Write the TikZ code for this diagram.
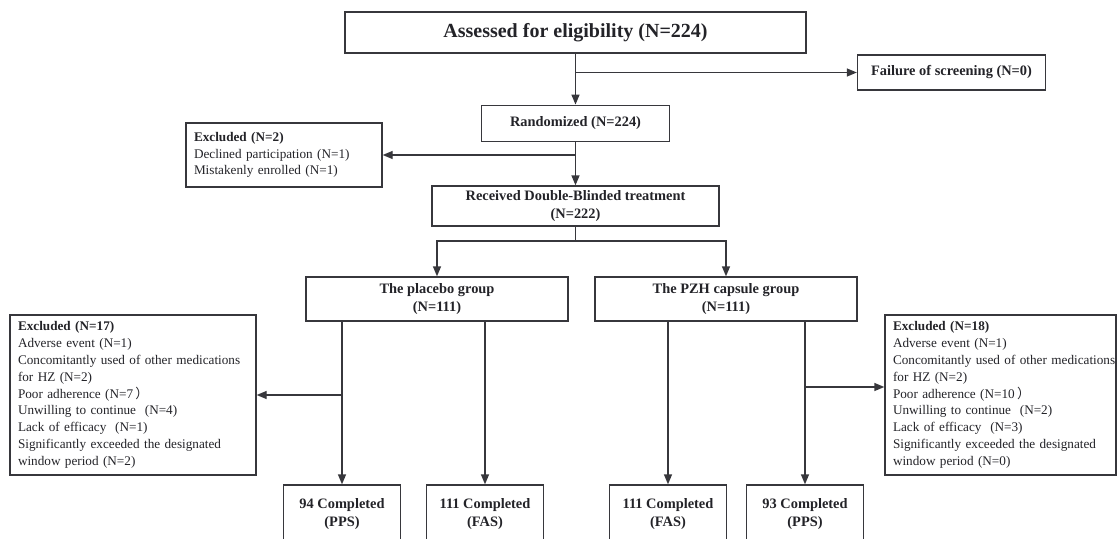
\documentclass[tikz,border=0pt]{standalone}
\usepackage{fontspec}
\setmainfont{Liberation Serif}
\newfontfamily\cjk{Noto Sans CJK SC}
\usetikzlibrary{arrows.meta}
\definecolor{linegray}{RGB}{55,55,60}
\definecolor{textgray}{RGB}{35,35,40}
\newcommand{\wideline}[1]{\makebox[\hsize][l]{#1}}
\begin{document}
\begin{tikzpicture}[x=0.75pt, y=-0.75pt,
    box/.style={draw=linegray, line width=1pt, align=center, text=textgray, inner sep=2pt,
        font=\fontsize{10.8}{13.3}\selectfont\bfseries},
    exclbox/.style={draw=linegray, line width=1pt, align=left, text=textgray, inner xsep=6pt, inner ysep=2pt,
        font=\fontsize{9.9}{12.6}\selectfont},
    endbox/.style={box, minimum width=88pt, minimum height=43.5pt},
    arr/.style={draw=linegray, line width=1pt, -{Triangle[length=7.5pt,width=6pt]}},
    link/.style={draw=linegray, line width=1pt}]
    \clip (0,0) rectangle (1118,539);

    \node[box, minimum width=345.75pt, minimum height=30.75pt, font=\fontsize{15}{18}\selectfont\bfseries]
        (elig) at (575.5,32.5) {Assessed for eligibility (N=224)};
    \node[box, minimum width=141pt, minimum height=26.25pt] (fail) at (951.5,72.5) {Failure of screening (N=0)};
    \node[box, minimum width=141.4pt, minimum height=27.4pt] (rand) at (575.5,123.5) {Randomized (N=224)};
    \node[exclbox, text width=135pt, minimum height=47.8pt] (excl2) at (284,155)
        {{\bfseries Excluded (N=2)}\\Declined participation (N=1)\\Mistakenly enrolled (N=1)};
    \node[box, minimum width=215.25pt, minimum height=30pt] (recv) at (575.5,206)
        {Received Double-Blinded treatment\\(N=222)};
    \node[box, minimum width=196.5pt, minimum height=33pt] (plac) at (437,299) {The placebo group\\(N=111)};
    \node[box, minimum width=196.5pt, minimum height=33pt] (pzh) at (726,299) {The PZH capsule group\\(N=111)};

    % exclusions after allocation
    \node[exclbox, text width=172.5pt, minimum height=120pt] (excl17) at (133,395)
        {{\bfseries Excluded (N=17)}\\Adverse event (N=1)\\\wideline{Concomitantly used of other medications}\\for HZ (N=2)\\
         Poor adherence (N=7\,{\cjk ）}\\Unwilling to continue~ (N=4)\\Lack of efficacy~ (N=1)\\
         Significantly exceeded the designated\\window period (N=2)};
    \node[exclbox, text width=161.25pt, minimum height=120pt] (excl18) at (1000.5,395)
        {{\bfseries Excluded (N=18)}\\Adverse event (N=1)\\\wideline{Concomitantly used of other medications}\\for HZ (N=2)\\
         Poor adherence (N=10\,{\cjk ）}\\Unwilling to continue~ (N=2)\\Lack of efficacy~ (N=3)\\
         \wideline{Significantly exceeded the designated}\\window period (N=0)};

    \node[endbox] (pps1) at (342,514) {94 Completed\\(PPS)};
    \node[endbox] (fas1) at (485,514) {111 Completed\\(FAS)};
    \node[endbox] (fas2) at (668,514) {111 Completed\\(FAS)};
    \node[endbox] (pps2) at (805,514) {93 Completed\\(PPS)};

    \coordinate (fork) at (575.5,241);
    \coordinate (to18) at ([yshift=6pt]excl18.west);

    \draw[arr] (elig) -- (rand);
    \draw[arr] (elig.south |- fail.west) -- (fail.west);
    \draw[arr] (rand) -- (recv);
    \draw[arr] (rand.south |- excl2.east) -- (excl2.east);
    \draw[link] (recv) -- (fork);
    \draw[arr] (fork) -| (plac);
    \draw[arr] (fork) -| (pzh);
    \draw[arr] (pps1.north |- plac.south) -- (pps1);
    \draw[arr] (fas1.north |- plac.south) -- (fas1);
    \draw[arr] (pps1.north |- excl17.east) -- (excl17.east);
    \draw[arr] (fas2.north |- pzh.south) -- (fas2);
    \draw[arr] (pps2.north |- pzh.south) -- (pps2);
    \draw[arr] (pps2.north |- to18) -- (to18);
\end{tikzpicture}
\end{document}
